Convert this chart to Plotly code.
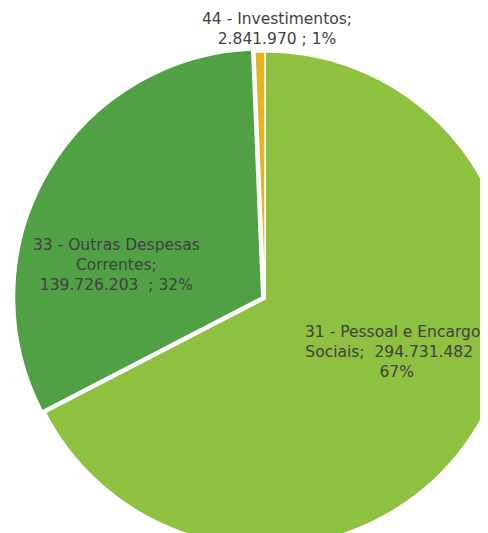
import plotly.graph_objects as go

# Data
categories = [
    "31 - Pessoal e Encargos<br>Sociais",
    "33 - Outras Despesas<br>Correntes",
    "44 - Investimentos",
]
values = [294731482, 139726203, 2841970]
colors = ["#8DC13F", "#4FA144", "#E8B321"]
pulls = [0, 0.015, 0]
# how each data label is laid out (value / percent joiners)
label_formats = [
    "{cat};  {val}  ;<br>{pct}%",
    "{cat};<br>{val}  ; {pct}%",
    "{cat};<br>{val} ; {pct}%",
]
# label anchor points in figure pixels (x, y from top)
label_pos = [(388, 344), (108, 257), (269, 21)]

FONT = dict(family="DejaVu Sans", size=15.5, color="#3F3F3F")

W, H = 512, 550
cx, cy, half = 257, 291, 251  # pie frame in figure pixels
fig = go.Figure(
    go.Pie(
        labels=categories,
        values=values,
        sort=False,
        direction="clockwise",
        rotation=0,
        pull=pulls,
        marker=dict(colors=colors, line=dict(color="white", width=1.5)),
        textinfo="none",
        showlegend=False,
        hoverinfo="skip",
        domain=dict(x=[(cx - half) / W, (cx + half) / W],
                    y=[1 - (cy + half) / H, 1 - (cy - half) / H]),
    )
)

total = sum(values)
for cat, val, fmt, (px, py) in zip(categories, values, label_formats, label_pos):
    pct = max(1, round(100 * val / total))
    text = fmt.format(cat=cat, val=f"{val:,}".replace(",", "."), pct=pct)
    fig.add_annotation(
        text=text, x=px / W, y=1 - py / H,
        xref="paper", yref="paper", xanchor="center", yanchor="middle",
        showarrow=False, font=FONT, align="center",
    )

fig.update_layout(
    width=W,
    height=H,
    margin=dict(l=0, r=0, t=0, b=0),
    paper_bgcolor="white",
    plot_bgcolor="white",
)
fig.write_html("out.html")
